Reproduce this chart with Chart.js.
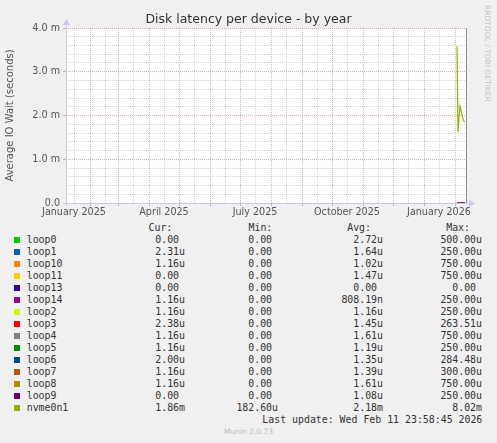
<!DOCTYPE html>
<html>
<head>
<meta charset="utf-8">
<title>Disk latency per device - by year</title>
<script src="https://cdn.jsdelivr.net/npm/chart.js@4.4.1/dist/chart.umd.min.js"></script>
<style>
html, body { margin: 0; padding: 0; background: #f0f0f0; }
#page { position: relative; width: 497px; height: 443px; overflow: hidden; font-family: "DejaVu Sans", sans-serif; }
#chart { position: absolute; left: 0; top: 0; }
.t { position: absolute; white-space: pre; }
#title { left: 0; width: 497px; text-align: center; top: 12px; font-size: 12.5px; line-height: 14px; color: #333; }
#side { left: 483px; top: 5px; font-size: 7.5px; line-height: 9px; color: #c4c4c4; writing-mode: vertical-rl; }
#footer { left: 0; width: 497px; text-align: center; top: 427px; font-size: 7.5px; line-height: 9px; color: #bdbdbd; }
.mono { font-family: "DejaVu Sans Mono", monospace; font-size: 9.9px; line-height: 12px; color: #333; }
.sw { position: absolute; width: 6px; height: 6px; }
</style>
</head>
<body>
<div id="page">
  <canvas id="chart" width="497" height="220"></canvas>
  <div class="t" id="title">Disk latency per device - by year</div>
  <div class="t" id="side">RRDTOOL / TOBI OETIKER</div>
  <div id="legend"></div>
  <div class="t" id="footer">Munin 2.0.73</div>
</div>
<script>
// Series names and colours (munin palette)
const seriesNames = ['loop0', 'loop1', 'loop10', 'loop11', 'loop13', 'loop14', 'loop2', 'loop3',
    'loop4', 'loop5', 'loop6', 'loop7', 'loop8', 'loop9', 'nvme0n1'];
const seriesColors = ['#00cc00', '#0066b3', '#ff8000', '#ffcc00', '#330099', '#990099', '#ccff00', '#ff0000',
    '#808080', '#008f00', '#00487d', '#b35a00', '#b38f00', '#6b006b', '#8fb300'];

// Legend columns
const curValues = ['0.00 ', '2.31u', '1.16u', '0.00 ', '0.00 ', '1.16u', '1.16u', '2.38u',
    '1.16u', '1.16u', '2.00u', '1.16u', '1.16u', '0.00 ', '1.86m'];
const minValues = ['0.00 ', '0.00 ', '0.00 ', '0.00 ', '0.00 ', '0.00 ', '0.00 ', '0.00 ',
    '0.00 ', '0.00 ', '0.00 ', '0.00 ', '0.00 ', '0.00 ', '182.60u'];
const avgValues = ['2.72u', '1.64u', '1.02u', '1.47u', '0.00 ', '808.19n', '1.16u', '1.45u',
    '1.61u', '1.19u', '1.35u', '1.39u', '1.61u', '1.08u', '2.18m'];
const maxValues = ['500.00u', '250.00u', '750.00u', '750.00u', '0.00 ', '250.00u', '250.00u', '263.51u',
    '750.00u', '250.00u', '284.48u', '300.00u', '750.00u', '250.00u', '8.02m'];

// Daily samples (only the last days of the year hold data)
const sampleDays = ['2026-02-03', '2026-02-04', '2026-02-05', '2026-02-06', '2026-02-07',
    '2026-02-08', '2026-02-09', '2026-02-10', '2026-02-11'];
const nvmeValues = [3.58e-3, 1.62e-3, 1.95e-3, 2.21e-3, 2.12e-3, 2.02e-3, 1.92e-3, 1.87e-3, 1.86e-3];
const loopValues = [0, 0, 0, 0, 0, 0, 0, 0, 0];

// Axis range and labels
const xStart = '2025-01-08';
const xEnd = '2026-02-12';
const xLabelDays = ['2025-01-16', '2025-04-16', '2025-07-16', '2025-10-16', '2026-01-16'];
const xLabels = ['January 2025', 'April 2025', 'July 2025', 'October 2025', 'January 2026'];
const yTicks = [0, 0.2e-3, 0.4e-3, 0.6e-3, 0.8e-3, 1e-3, 1.2e-3, 1.4e-3, 1.6e-3, 1.8e-3, 2e-3,
    2.2e-3, 2.4e-3, 2.6e-3, 2.8e-3, 3e-3, 3.2e-3, 3.4e-3, 3.6e-3, 3.8e-3, 4e-3];
const yLabels = ['0.0', '1.0 m', '2.0 m', '3.0 m', '4.0 m'];

const day = s => Date.parse(s + 'T00:00:00Z');

// month starts are major grid lines, the 16th of each month minor ones
const tickList = [];
for (let y = 2025; y <= 2026; y++) {
    for (let m = 0; m < 12; m++) {
        const start = Date.UTC(y, m, 1);
        const mid = Date.UTC(y, m, 16);
        if (start >= day(xStart) && start <= day(xEnd)) tickList.push({ value: start, major: true });
        if (mid >= day(xStart) && mid <= day(xEnd)) tickList.push({ value: mid, major: false });
    }
}
tickList.sort((a, b) => a.value - b.value);
const labelAt = {};
xLabelDays.forEach((d, i) => { labelAt[day(d)] = xLabels[i]; });

// later series are painted over earlier ones, like rrdtool does
const datasets = seriesNames.map((name, i) => ({
    label: name,
    data: sampleDays.map((d, j) => ({ x: day(d), y: name === 'nvme0n1' ? nvmeValues[j] : loopValues[j] })),
    borderColor: seriesColors[i],
    borderWidth: 1.2,
    pointRadius: 0,
    tension: 0,
    order: seriesNames.length - i
}));

const majorGrid = 'rgba(210, 90, 90, 0.5)';
const minorGrid = 'rgba(160, 160, 160, 0.45)';
const clear = 'rgba(0,0,0,0)';

// white plot area, axis lines with arrows, and the dark frame on the right
const rrdFrame = {
    id: 'rrdFrame',
    beforeDraw(chart) {
        const { ctx, chartArea: a } = chart;
        ctx.save();
        ctx.fillStyle = '#ffffff';
        ctx.fillRect(a.left, a.top, a.right - a.left, a.bottom - a.top);
        ctx.restore();
    },
    beforeDatasetsDraw(chart) {
        const { ctx, chartArea: a } = chart;
        ctx.save();
        ctx.strokeStyle = '#c8c8f0';
        ctx.fillStyle = '#c8c8f0';
        ctx.lineWidth = 1;
        ctx.beginPath();
        ctx.moveTo(a.left + 0.5, a.bottom + 3);
        ctx.lineTo(a.left + 0.5, a.top - 4);
        ctx.moveTo(a.left - 3, a.bottom + 0.5);
        ctx.lineTo(a.right + 4, a.bottom + 0.5);
        ctx.stroke();
        ctx.beginPath();
        ctx.moveTo(a.left - 3, a.top - 3);
        ctx.lineTo(a.left + 4, a.top - 3);
        ctx.lineTo(a.left + 0.5, a.top - 9);
        ctx.closePath();
        ctx.fill();
        ctx.beginPath();
        ctx.moveTo(a.right + 3, a.bottom - 3);
        ctx.lineTo(a.right + 3, a.bottom + 4);
        ctx.lineTo(a.right + 9, a.bottom + 0.5);
        ctx.closePath();
        ctx.fill();
        ctx.strokeStyle = '#8c8c8c';
        ctx.beginPath();
        ctx.moveTo(a.right + 0.5, a.top);
        ctx.lineTo(a.right + 0.5, a.bottom);
        ctx.stroke();
        ctx.restore();
    }
};

new Chart(document.getElementById('chart'), {
    type: 'line',
    data: { datasets },
    plugins: [rrdFrame],
    options: {
        responsive: false,
        animation: false,
        layout: { padding: { left: 0, right: 31, top: 28, bottom: 0 } },
        plugins: { legend: { display: false }, tooltip: { enabled: false } },
        scales: {
            x: {
                type: 'linear',
                min: day(xStart),
                max: day(xEnd),
                afterBuildTicks(scale) {
                    scale.ticks = tickList.map(t => ({ value: t.value }));
                },
                afterFit(scale) { scale.height = 17; },
                ticks: {
                    autoSkip: false,
                    maxRotation: 0,
                    padding: 1,
                    color: '#555',
                    font: { family: 'DejaVu Sans', size: 9.6 },
                    callback: value => labelAt[value] || ''
                },
                grid: {
                    color: c => (tickList[c.index] && tickList[c.index].major) ? majorGrid : minorGrid,
                    tickColor: c => (tickList[c.index] && tickList[c.index].major) ? majorGrid : clear,
                    tickLength: 3,
                    lineWidth: 1
                },
                border: { display: false, dash: [1, 1] }
            },
            y: {
                min: 0,
                max: 0.004,
                afterBuildTicks(scale) {
                    scale.ticks = yTicks.map(v => ({ value: v }));
                },
                afterFit(scale) { scale.width = 66; },
                ticks: {
                    autoSkip: false,
                    padding: 3,
                    color: '#555',
                    font: { family: 'DejaVu Sans', size: 9.6 },
                    callback: (value, index) => index % 5 === 0 ? yLabels[index / 5] : ''
                },
                grid: {
                    color: c => c.index % 5 === 0 ? majorGrid : minorGrid,
                    tickColor: c => c.index % 5 === 0 ? majorGrid : clear,
                    tickLength: 3,
                    lineWidth: 1
                },
                border: { display: false, dash: [1, 1] },
                title: {
                    display: true,
                    text: 'Average IO Wait (seconds)',
                    color: '#555',
                    font: { family: 'DejaVu Sans', size: 10 },
                    padding: { top: 4, bottom: 0 }
                }
            }
        }
    }
});

// Legend table below the graph
const legend = document.getElementById('legend');
function cell(text, right, top) {
    const d = document.createElement('div');
    d.className = 't mono';
    d.textContent = text;
    d.style.right = (497 - right) + 'px';
    d.style.top = top + 'px';
    legend.appendChild(d);
}
const headTop = 221.6;
cell('Cur:', 172.3, headTop);
cell('Min:', 272.3, headTop);
cell('Avg:', 371, headTop);
cell('Max:', 470, headTop);
seriesNames.forEach((name, i) => {
    const top = 233.6 + 12 * i;
    const sw = document.createElement('div');
    sw.className = 'sw';
    sw.style.left = '14px';
    sw.style.top = (top + 3.2) + 'px';
    sw.style.background = seriesColors[i];
    legend.appendChild(sw);
    const lab = document.createElement('div');
    lab.className = 't mono';
    lab.textContent = name;
    lab.style.left = '26.7px';
    lab.style.top = top + 'px';
    legend.appendChild(lab);
    cell(curValues[i], 185, top);
    cell(minValues[i], 278, top);
    cell(avgValues[i], 383, top);
    cell(maxValues[i], 482, top);
});
cell('Last update: Wed Feb 11 23:58:45 2026', 482.3, 233.6 + 12 * 15);
</script>
</body>
</html>
